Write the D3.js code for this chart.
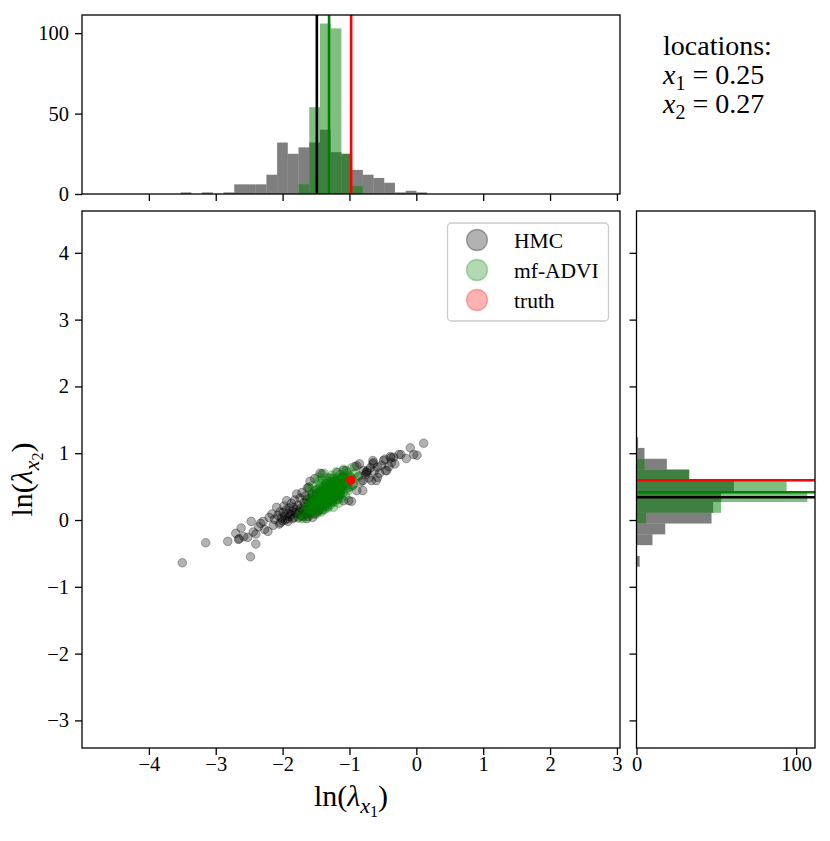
<!DOCTYPE html>
<html>
<head>
<meta charset="utf-8">
<script src="https://cdn.jsdelivr.net/npm/d3@7"></script>
<style>
  body { margin: 0; background: #fff; }
  svg { font-family: "Liberation Serif", "DejaVu Serif", serif; }
</style>
</head>
<body>
<svg id="chart" width="830" height="841"></svg>
<script>
// ---- data ----

// posterior samples of (ln lambda_x1, ln lambda_x2)
var hmcSamples = [
  [-3.50,-0.64],[-3.15,-0.34],[-2.82,-0.32],[-2.66,-0.29],[-2.65,-0.28],[-2.48,-0.55],[-2.62,-0.12],
  [-2.70,-0.20],[-2.58,-0.25],[-2.52,-0.26],[-2.47,-0.02],[-2.44,-0.18],[-2.40,-0.21],[-2.40,-0.36],
  [-2.36,-0.10],[-2.33,-0.05],[-2.29,-0.02],[-2.27,-0.14],[-2.22,-0.17],[-2.20,0.04],[-2.16,0.09],
  [-2.14,-0.08],[-2.12,0.01],[-2.09,0.19],[-2.07,0.07],[-2.05,-0.06],[-2.04,0.12],[-2.03,-0.04],
  [-2.02,0.03],[-2.00,-0.01],[-1.99,0.11],[-1.98,0.21],[-1.97,0.06],[-1.96,0.00],[-1.95,0.15],
  [-1.94,0.29],[-1.93,0.02],[-1.92,-0.02],[-1.91,0.10],[-1.90,0.18],[-1.89,0.05],[-1.88,0.08],
  [-1.87,0.25],[-1.86,0.13],[-1.85,0.02],[-1.84,0.19],[-1.83,0.04],[-1.82,0.30],[-1.81,0.11],
  [-1.80,0.16],[-1.79,0.39],[-1.78,0.09],[-1.77,0.22],[-1.76,0.03],[-1.75,0.12],[-1.74,0.33],
  [-1.73,0.18],[-1.72,0.07],[-1.71,0.41],[-1.70,0.05],[-1.69,0.14],[-1.68,0.26],[-1.66,0.36],
  [-1.65,0.15],[-1.64,0.02],[-1.63,0.48],[-1.61,0.49],[-1.60,0.10],[-1.59,0.58],[-1.58,0.20],
  [-1.56,0.39],[-1.55,0.04],[-1.54,0.30],[-1.52,0.62],[-1.50,0.45],[-1.48,0.12],[-1.47,0.22],
  [-1.44,0.70],[-1.41,0.69],[-1.40,0.15],[-1.38,0.36],[-1.35,0.55],[-1.33,0.20],[-1.32,0.45],
  [-1.29,0.63],[-1.26,0.30],[-1.22,0.52],[-1.18,0.71],[-1.15,0.40],[-1.12,0.60],[-1.09,0.74],
  [-1.09,0.29],[-1.05,0.74],[-1.02,0.48],[-1.01,0.29],[-0.99,0.64],[-0.97,0.28],[-0.95,0.52],
  [-0.92,0.80],[-0.89,0.81],[-0.89,0.44],[-0.86,0.66],[-0.85,0.84],[-0.83,0.57],[-0.80,0.44],
  [-0.80,0.59],[-0.79,0.74],[-0.76,0.68],[-0.75,0.72],[-0.74,0.71],[-0.73,0.74],[-0.71,0.63],
  [-0.69,0.78],[-0.67,0.59],[-0.65,0.84],[-0.64,0.86],[-0.65,0.89],[-0.63,0.73],[-0.60,0.59],
  [-0.58,0.79],[-0.58,0.64],[-0.55,0.70],[-0.52,0.82],[-0.49,0.89],[-0.47,0.91],[-0.46,0.74],
  [-0.44,0.74],[-0.41,0.80],[-0.39,0.95],[-0.38,0.93],[-0.37,0.86],[-0.34,0.94],[-0.32,0.84],
  [-0.26,0.98],[-0.23,0.98],[-0.15,0.92],[-0.09,1.08],[-0.04,0.98],[0.01,0.97],[0.11,1.15],
  [-1.62,0.25],[-1.60,0.33],[-1.58,0.12],[-1.57,0.28],[-1.56,0.19],[-1.55,0.36],[-1.53,0.24],
  [-1.52,0.09],[-1.51,0.31],[-1.50,0.18],[-1.49,0.40],[-1.48,0.27],[-1.46,0.34],[-1.45,0.15],
  [-1.44,0.43],[-1.43,0.29],[-1.42,0.21],[-1.41,0.37],[-1.39,0.48],[-1.38,0.26],[-1.37,0.33],
  [-1.36,0.42],[-1.34,0.24],[-1.33,0.38],[-1.31,0.30],[-1.30,0.51],[-1.28,0.36],[-1.27,0.44],
  [-1.25,0.27],[-1.24,0.40],[-1.23,0.58],[-1.21,0.35],[-1.20,0.46],[-1.18,0.53],[-1.17,0.31],
  [-1.16,0.44],[-1.14,0.57],[-1.13,0.38],[-1.11,0.50],[-1.10,0.64],[-1.68,0.20],[-1.66,0.09],
  [-1.64,0.30],[-1.62,0.05]
];

var adviSamples = [
  [-1.76,0.05],[-1.72,0.10],[-1.70,0.02],
  [-1.67,0.15],[-1.66,0.06],[-1.64,0.22],[-1.63,0.11],
  [-1.61,0.30],[-1.60,0.17],[-1.59,0.08],[-1.58,0.24],[-1.57,0.40],[-1.60,0.47],
  [-1.56,0.12],[-1.55,0.21],[-1.54,0.33],[-1.53,0.16],[-1.52,0.27],[-1.51,0.45],[-1.55,0.52],
  [-1.50,0.19],[-1.49,0.31],[-1.49,0.09],[-1.48,0.25],[-1.47,0.38],[-1.46,0.14],[-1.46,0.58],
  [-1.45,0.29],[-1.45,0.47],[-1.44,0.21],[-1.47,0.64],
  [-1.43,0.35],[-1.42,0.12],[-1.42,0.27],[-1.41,0.43],[-1.41,0.62],[-1.40,0.19],[-1.40,0.33],
  [-1.39,0.51],[-1.39,0.24],[-1.38,0.40],[-1.38,0.70],[-1.37,0.30],[-1.37,0.16],
  [-1.36,0.46],[-1.36,0.36],[-1.35,0.22],[-1.35,0.55],[-1.34,0.41],[-1.34,0.29],[-1.33,0.63],
  [-1.33,0.35],[-1.32,0.18],[-1.32,0.48],[-1.31,0.39],[-1.31,0.26],[-1.30,0.58],[-1.30,0.44],
  [-1.29,0.33],[-1.29,0.51],[-1.28,0.23],[-1.28,0.42],[-1.27,0.67],[-1.27,0.37],[-1.26,0.47],
  [-1.26,0.29],[-1.25,0.56],[-1.25,0.40],[-1.24,0.19],[-1.24,0.50],[-1.23,0.34],[-1.23,0.61],
  [-1.22,0.44],[-1.22,0.27],[-1.21,0.53],[-1.21,0.38],[-1.20,0.72],[-1.20,0.47],[-1.19,0.31],
  [-1.19,0.57],[-1.18,0.42],[-1.18,0.64],[-1.17,0.36],[-1.17,0.50],[-1.16,0.25],[-1.16,0.59],
  [-1.15,0.45],[-1.14,0.68],[-1.14,0.39],[-1.13,0.54],[-1.12,0.33],[-1.12,0.60],
  [-1.10,0.49],[-1.09,0.76],[-1.09,0.41],[-1.08,0.57],[-1.07,0.66],[-1.07,0.47],[-1.06,0.36],
  [-1.05,0.62],[-1.04,0.52],[-1.03,0.71],[-1.02,0.44],[-1.01,0.58],
  [-0.99,0.66],[-0.98,0.50],[-0.97,0.78],[-0.96,0.61],[-0.94,0.55],[-0.92,0.70],[-0.88,0.64],
  [-1.52,0.22],[-1.50,0.27],[-1.48,0.33],[-1.47,0.18],[-1.46,0.41],[-1.44,0.28],[-1.43,0.24],
  [-1.42,0.38],[-1.41,0.31],[-1.40,0.45],[-1.39,0.28],[-1.38,0.34],[-1.37,0.42],[-1.36,0.26],
  [-1.35,0.38],[-1.34,0.49],[-1.33,0.31],[-1.32,0.40],[-1.31,0.52],[-1.30,0.34],[-1.29,0.45],
  [-1.28,0.37],[-1.27,0.55],[-1.26,0.41],[-1.25,0.33],[-1.24,0.46],[-1.23,0.53],[-1.22,0.39],
  [-1.21,0.60],[-1.20,0.43],[-1.19,0.50],[-1.18,0.36],[-1.17,0.55],[-1.16,0.47],[-1.15,0.62],
  [-1.14,0.51],[-1.13,0.43],[-1.12,0.56],[-1.11,0.64],[-1.10,0.54],[-1.58,0.14],[-1.55,0.26],
  [-1.53,0.10],[-1.51,0.35],[-1.62,0.19],[-1.08,0.62],[-1.06,0.55],[-1.04,0.66],[-1.36,0.31],
  [-1.29,0.39],
  [-1.45,0.36],[-1.43,0.30],[-1.41,0.25],[-1.39,0.37],[-1.37,0.36],[-1.35,0.45],[-1.33,0.42],
  [-1.31,0.33],[-1.30,0.40],[-1.28,0.47],[-1.27,0.31],[-1.26,0.52],[-1.25,0.45],[-1.23,0.41],
  [-1.22,0.49],[-1.21,0.45],[-1.20,0.55],[-1.19,0.40],[-1.18,0.48],[-1.17,0.43],[-1.16,0.53],
  [-1.15,0.57],[-1.14,0.46],[-1.13,0.60],[-1.12,0.50],[-1.48,0.29],[-1.50,0.35],[-1.52,0.30],
  [-1.54,0.20],[-1.56,0.28],[-1.44,0.50],[-1.42,0.55],[-1.34,0.58],[-1.29,0.27],[-1.24,0.36],
  [-1.38,0.22],[-1.40,0.40],[-1.32,0.50],[-1.26,0.62],[-1.36,0.51]
];

var truth = [-0.98, 0.595];

// marginal histograms (counts per bin)
var xBinEdges = [-3.524,-3.364,-3.204,-3.043,-2.883,-2.723,-2.563,-2.403,-2.242,-2.082,-1.922,-1.762,
                 -1.601,-1.441,-1.281,-1.121,-0.961,-0.800,-0.640,-0.480,-0.320,-0.160,0.001,0.161];
var hmcXCounts  = [1,0,1,0,1,6,6,6,12,32,25,29,32,40,26,25,15,12,10,7,1,2,1];
var adviXCounts = [0,0,0,0,0,0,0,0,0,0,0,6,54,106,103,25,5,0,0,0,0,0,0];

var yBinEdges = [-0.700,-0.538,-0.377,-0.215,-0.053,0.108,0.270,0.432,0.593,0.755,0.917,1.079,1.240];
var hmcYCounts  = [2,0,10,18,47,48,53,61,33,19,5,1];
var adviYCounts = [0,0,0,0,6,53,107,94,33,5,0,0];

// posterior means and the true value
var markers = [
  { name: "HMC",     x: -1.488, y: 0.34,  color: "#000000" },
  { name: "mf-ADVI", x: -1.305, y: 0.415, color: "#008000" },
  { name: "truth",   x: -0.975, y: 0.595, color: "#ff0000" }
];

var xTicks = [-4, -3, -2, -1, 0, 1, 2, 3];
var yTicks = [-3, -2, -1, 0, 1, 2, 3, 4];
var countTicksTop = [0, 50, 100];
var countTicksRight = [0, 100];
var locationLines = [["1", "0.25"], ["2", "0.27"]];

// ---- layout ----
var svg = d3.select("#chart");
var tickFont = "20.5px";
var labelFont = "30px";

var mainBox  = { left: 82,    right: 620, top: 211, bottom: 748 };
var topBox   = { left: 82,    right: 620, top: 15,  bottom: 194 };
var rightBox = { left: 636.5, right: 815, top: 211, bottom: 748 };

var x = d3.scaleLinear().domain([-5.0, 3.046]).range([mainBox.left, mainBox.right]);
var y = d3.scaleLinear().domain([-3.413, 4.626]).range([mainBox.bottom, mainBox.top]);
var countY = d3.scaleLinear().domain([0, 111.3]).range([topBox.bottom, topBox.top]);
var countX = d3.scaleLinear().domain([0, 111.8]).range([rightBox.left, rightBox.right]);

// pair each count with its bin edges, drop empty bins
function toBins(edges, counts) {
  return counts.map(function(n, i) { return { x0: edges[i], x1: edges[i + 1], n: n }; })
               .filter(function(b) { return b.n > 0; });
}

function styleAxis(g, showLabels) {
  g.attr("font-family", null).attr("font-size", null);
  g.select(".domain").remove();
  g.selectAll(".tick line").attr("stroke", "#000").attr("stroke-width", 1.3);
  g.selectAll(".tick text")
      .attr("fill", "#000")
      .style("font-size", tickFont)
      .style("display", showLabels ? null : "none");
}

function frame(box) {
  svg.append("rect")
      .attr("x", box.left).attr("y", box.top)
      .attr("width", box.right - box.left).attr("height", box.bottom - box.top)
      .attr("fill", "none").attr("stroke", "#000").attr("stroke-width", 1.3);
}

// ---- top histogram ----
var topG = svg.append("g");
[[hmcXCounts, "rgba(0,0,0,0.5)"], [adviXCounts, "rgba(0,128,0,0.5)"]].forEach(function(h) {
  topG.append("g").selectAll("rect")
      .data(toBins(xBinEdges, h[0]))
    .enter().append("rect")
      .attr("x", function(d) { return x(d.x0); })
      .attr("width", function(d) { return x(d.x1) - x(d.x0); })
      .attr("y", function(d) { return countY(d.n); })
      .attr("height", function(d) { return countY(0) - countY(d.n); })
      .attr("fill", h[1]);
});
topG.selectAll("line.mean")
    .data(markers)
  .enter().append("line")
    .attr("class", "mean")
    .attr("x1", function(d) { return x(d.x); })
    .attr("x2", function(d) { return x(d.x); })
    .attr("y1", topBox.top).attr("y2", topBox.bottom)
    .attr("stroke", function(d) { return d.color; })
    .attr("stroke-width", 2.6);

svg.append("g")
    .attr("transform", "translate(" + topBox.left + ",0)")
    .call(d3.axisLeft(countY).tickValues(countTicksTop).tickSize(7).tickPadding(6))
    .call(styleAxis, true);
svg.append("g")
    .attr("transform", "translate(0," + topBox.bottom + ")")
    .call(d3.axisBottom(x).tickValues(xTicks).tickSize(7))
    .call(styleAxis, false);
frame(topBox);

// ---- right histogram ----
var rightG = svg.append("g");
[[hmcYCounts, "rgba(0,0,0,0.5)"], [adviYCounts, "rgba(0,128,0,0.5)"]].forEach(function(h) {
  rightG.append("g").selectAll("rect")
      .data(toBins(yBinEdges, h[0]))
    .enter().append("rect")
      .attr("x", countX(0))
      .attr("width", function(d) { return countX(d.n) - countX(0); })
      .attr("y", function(d) { return y(d.x1); })
      .attr("height", function(d) { return y(d.x0) - y(d.x1); })
      .attr("fill", h[1]);
});
rightG.selectAll("line.mean")
    .data(markers)
  .enter().append("line")
    .attr("class", "mean")
    .attr("y1", function(d) { return y(d.y); })
    .attr("y2", function(d) { return y(d.y); })
    .attr("x1", rightBox.left).attr("x2", rightBox.right)
    .attr("stroke", function(d) { return d.color; })
    .attr("stroke-width", 2.6);

svg.append("g")
    .attr("transform", "translate(0," + rightBox.bottom + ")")
    .call(d3.axisBottom(countX).tickValues(countTicksRight).tickSize(7).tickPadding(1))
    .call(styleAxis, true);
svg.append("g")
    .attr("transform", "translate(" + rightBox.left + ",0)")
    .call(d3.axisLeft(y).tickValues(yTicks).tickSize(7))
    .call(styleAxis, false);
frame(rightBox);

// ---- joint scatter ----
var scatterG = svg.append("g");
[[hmcSamples, "#000000"], [adviSamples, "#008000"]].forEach(function(s) {
  scatterG.append("g").selectAll("circle")
      .data(s[0])
    .enter().append("circle")
      .attr("cx", function(d) { return x(d[0]); })
      .attr("cy", function(d) { return y(d[1]); })
      .attr("r", 4.3)
      .attr("fill", s[1]).attr("fill-opacity", 0.3)
      .attr("stroke", s[1]).attr("stroke-opacity", 0.3).attr("stroke-width", 1);
});
scatterG.append("circle")
    .attr("cx", x(truth[0])).attr("cy", y(truth[1]))
    .attr("r", 4.6)
    .attr("fill", "#ff0000");

svg.append("g")
    .attr("transform", "translate(0," + mainBox.bottom + ")")
    .call(d3.axisBottom(x).tickValues(xTicks).tickSize(7).tickPadding(1))
    .call(styleAxis, true);
svg.append("g")
    .attr("transform", "translate(" + mainBox.left + ",0)")
    .call(d3.axisLeft(y).tickValues(yTicks).tickSize(7).tickPadding(6))
    .call(styleAxis, true);
frame(mainBox);

// ---- legend ----
var legend = svg.append("g").attr("transform", "translate(447.5,223)");
legend.append("rect")
    .attr("width", 161).attr("height", 98).attr("rx", 4).attr("ry", 4)
    .attr("fill", "#fff").attr("fill-opacity", 0.8)
    .attr("stroke", "#cccccc").attr("stroke-width", 1.3);
var item = legend.selectAll("g.item")
    .data(markers)
  .enter().append("g")
    .attr("class", "item")
    .attr("transform", function(d, i) { return "translate(0," + (17 + i * 30) + ")"; });
item.append("circle")
    .attr("cx", 29.5).attr("r", 10.5)
    .attr("fill", function(d) { return d.color; }).attr("fill-opacity", 0.3)
    .attr("stroke", function(d) { return d.color; }).attr("stroke-opacity", 0.3)
    .attr("stroke-width", 1.3);
item.append("text")
    .attr("x", 66.5).attr("y", 7.5)
    .style("font-size", "21.5px")
    .text(function(d) { return d.name; });

// ---- annotation ----
var note = svg.append("g").attr("transform", "translate(663,0)");
note.append("text")
    .attr("y", 55)
    .style("font-size", "28px")
    .text("locations:");
locationLines.forEach(function(l, i) {
  var t = note.append("text").attr("y", 84 + i * 29).style("font-size", "28px");
  t.append("tspan").style("font-style", "italic").text("x");
  t.append("tspan").attr("dy", 6).style("font-size", "20px").text(l[0]);
  t.append("tspan").attr("dy", -6).text(" = " + l[1]);
});

// ---- axis labels ----
function lambdaLabel(t, sub) {
  t.append("tspan").text("ln(");
  t.append("tspan").style("font-style", "italic").text("λ");
  t.append("tspan").attr("dy", 7).style("font-size", "22px").style("font-style", "italic").text("x");
  t.append("tspan").attr("dy", 4).style("font-size", "16px").text(sub);
  t.append("tspan").attr("dy", -11).text(")");
}
var xLabel = svg.append("text")
    .attr("x", (mainBox.left + mainBox.right) / 2).attr("y", 806)
    .attr("text-anchor", "middle")
    .style("font-size", labelFont);
lambdaLabel(xLabel, "1");

var yLabel = svg.append("text")
    .attr("transform", "translate(32," + ((mainBox.top + mainBox.bottom) / 2) + ") rotate(-90)")
    .attr("text-anchor", "middle")
    .style("font-size", labelFont);
lambdaLabel(yLabel, "2");
</script>
</body>
</html>
